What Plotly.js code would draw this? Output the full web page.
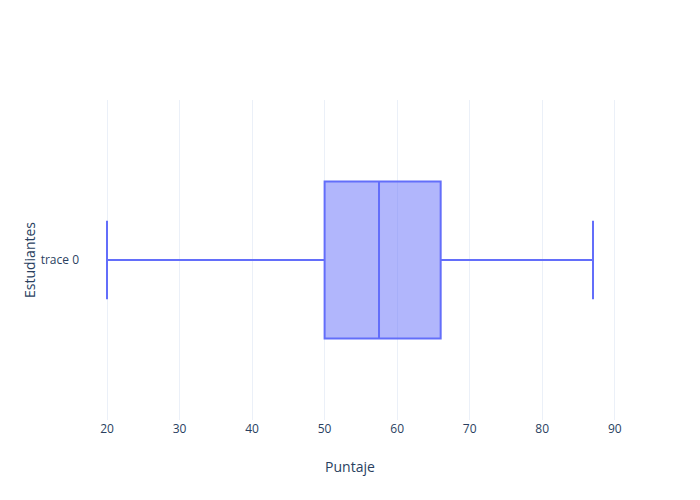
<!DOCTYPE html>
<html>
<head>
<meta charset="utf-8">
<script src="https://cdn.plot.ly/plotly-3.0.1.min.js"></script>
<style>html,body{margin:0;padding:0;}</style>
</head>
<body>
<div id="chart" style="width:700px;height:500px;"></div>
<script>
const category = ['trace 0'];
const lowerFence = [20];
const q1 = [50];
const median = [57.5];
const q3 = [66];
const upperFence = [87];

Plotly.newPlot('chart', [{
  type: 'box',
  orientation: 'h',
  y: category,
  lowerfence: lowerFence,
  q1: q1,
  median: median,
  q3: q3,
  upperfence: upperFence,
  marker: {color: '#636efa'},
  line: {color: '#636efa'}
}], {
  width: 700,
  height: 500,
  showlegend: false,
  paper_bgcolor: 'white',
  plot_bgcolor: 'white',
  font: {family: '"Open Sans", verdana, arial, sans-serif', color: '#2a3f5f', size: 12},
  xaxis: {title: {text: 'Puntaje'}, gridcolor: '#EBF0F8', zeroline: false, showline: false, ticks: ''},
  yaxis: {title: {text: 'Estudiantes'}, showgrid: false, zeroline: false, showline: false, ticks: ''}
}, {displayModeBar: false});
</script>
</body>
</html>
